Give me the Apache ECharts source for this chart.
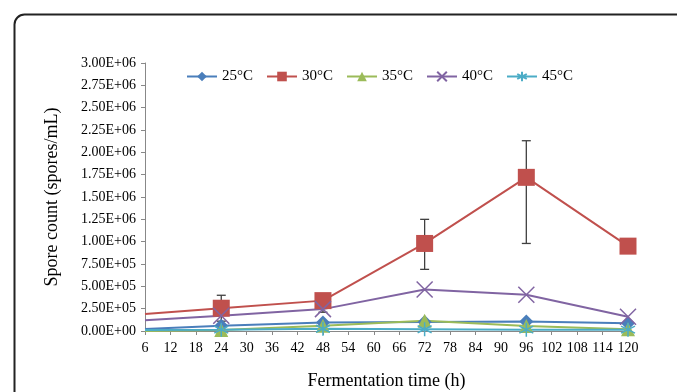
<!DOCTYPE html>
<html>
<head>
<meta charset="utf-8">
<script src="https://cdn.jsdelivr.net/npm/echarts@6/dist/echarts.min.js"></script>
<style>
  html, body { margin: 0; padding: 0; background: #fff; }
  #chart { width: 677px; height: 392px; }
</style>
</head>
<body>
<div id="chart"></div>
<script>
// fermentation time (h) and spore counts per temperature
const hours = [6, 24, 48, 72, 96, 120];
const t25 = [2.2e4, 6.0e4, 9.5e4, 1.0e5, 1.05e5, 8.6e4];
const t30 = [1.9e5, 2.55e5, 3.4e5, 9.8e5, 1.72e6, 9.5e5];
const t35 = [0, 1.0e4, 6.0e4, 1.15e5, 5.6e4, 2.0e4];
const t40 = [1.2e5, 1.7e5, 2.45e5, 4.65e5, 4.05e5, 1.6e5];
const t45 = [1.2e4, 1.5e4, 2.5e4, 2.0e4, 1.5e4, 1.5e4];
// error bars of the 30°C series (low, high)
const errHours = [24, 48, 72, 96];
const errLow = [1.1e5, 2.1e5, 6.9e5, 9.8e5];
const errHigh = [4.0e5, 3.7e5, 1.25e6, 2.13e6];

const font = 'Liberation Serif';

function sci(v) {
  if (v === 0) return '0.00E+00';
  const e = Math.floor(Math.log10(v) + 1e-9);
  const m = v / Math.pow(10, e);
  return m.toFixed(2) + 'E+' + String(e).padStart(2, '0');
}

// first point sits on the axis edge, drawn without a marker
function pts(vals) {
  return hours.map((h, i) => i === 0 ? { value: [h, vals[i]], symbol: 'none' } : [h, vals[i]]);
}

const crossPath = 'path://M0,0L10,10M0,10L10,0';
const starPath = 'path://M5,0L5,10M0.8,2.5L9.2,7.5M0.8,7.5L9.2,2.5';

function lineSeries(name, vals, color, symbol, size, stroke) {
  return {
    name: name,
    type: 'line',
    data: pts(vals),
    symbol: symbol,
    symbolSize: size,
    showSymbol: true,
    lineStyle: { color: color, width: 2 },
    itemStyle: stroke
      ? { color: 'none', borderColor: color, borderWidth: 1.5 }
      : { color: color },
    z: 3
  };
}

const chart = echarts.init(document.getElementById('chart'));
chart.setOption({
  animation: false,
  graphic: [{
    type: 'rect',
    left: 12, top: 12,
    shape: { width: 900, height: 600, r: 10 },
    style: { fill: 'none', stroke: '#222', lineWidth: 2 },
    silent: true
  }],
  grid: { left: 145, right: 49, top: 63, bottom: 61, containLabel: false, outerBoundsMode: 'none' },
  legend: {
    left: 181, top: 64,
    itemWidth: 30, itemHeight: 12, itemGap: 13,
    textStyle: { fontFamily: font, fontSize: 15, color: '#000' },
    data: ['25°C', '30°C', '35°C', '40°C', '45°C']
  },
  xAxis: {
    type: 'value',
    min: 6, max: 120, interval: 6,
    name: 'Fermentation time (h)',
    nameLocation: 'middle',
    nameGap: 41,
    nameTextStyle: { fontFamily: font, fontSize: 18, color: '#000' },
    axisLine: { lineStyle: { color: '#888' } },
    axisTick: { show: true, length: 4, lineStyle: { color: '#888' } },
    axisLabel: { fontFamily: font, fontSize: 14, color: '#000', margin: 10 },
    splitLine: { show: false }
  },
  yAxis: {
    type: 'value',
    min: 0, max: 3e6, interval: 2.5e5,
    name: 'Spore count (spores/mL)',
    nameLocation: 'middle',
    nameGap: 84,
    nameTextStyle: { fontFamily: font, fontSize: 18, color: '#000' },
    axisLine: { show: true, lineStyle: { color: '#888' } },
    axisTick: { show: true, length: 4, lineStyle: { color: '#888' } },
    axisLabel: { fontFamily: font, fontSize: 14, color: '#000', margin: 9, formatter: sci },
    splitLine: { show: false }
  },
  series: [
    {
      type: 'custom',
      name: 'err',
      data: errHours.map((h, i) => [h, errLow[i], errHigh[i]]),
      encode: { x: 0, y: [1, 2] },
      z: 1,
      renderItem: function (params, api) {
        const lo = api.coord([api.value(0), api.value(1)]);
        const hi = api.coord([api.value(0), api.value(2)]);
        const w = 4.5;
        const st = { stroke: '#404040', lineWidth: 1.3 };
        return {
          type: 'group',
          children: [
            { type: 'line', shape: { x1: lo[0], y1: lo[1], x2: hi[0], y2: hi[1] }, style: st },
            { type: 'line', shape: { x1: lo[0] - w, y1: lo[1], x2: lo[0] + w, y2: lo[1] }, style: st },
            { type: 'line', shape: { x1: hi[0] - w, y1: hi[1], x2: hi[0] + w, y2: hi[1] }, style: st }
          ]
        };
      }
    },
    lineSeries('25°C', t25, '#4A7EBB', 'diamond', 14, false),
    lineSeries('30°C', t30, '#C0504D', 'rect', 17, false),
    lineSeries('35°C', t35, '#9BBB59', 'triangle', 14, false),
    lineSeries('40°C', t40, '#8064A2', crossPath, 16, true),
    lineSeries('45°C', t45, '#4BACC6', starPath, 14, true)
  ]
});
</script>
</body>
</html>
